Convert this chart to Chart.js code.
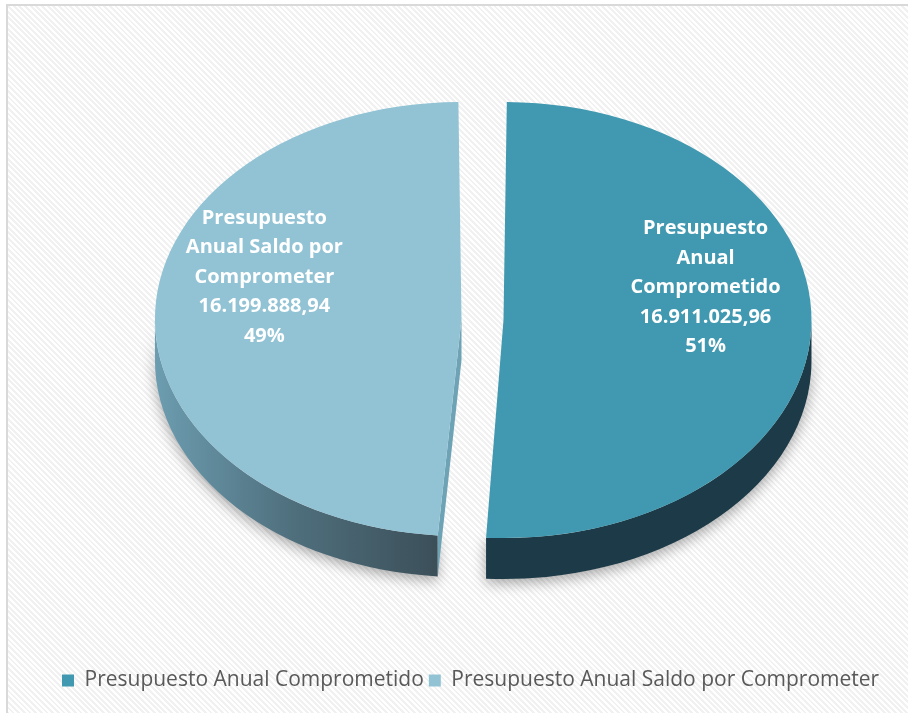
<!DOCTYPE html>
<html>
<head>
<meta charset="utf-8">
<script src="https://cdn.jsdelivr.net/npm/chart.js@4.4.1/dist/chart.umd.min.js"></script>
<style>
html, body { margin: 0; padding: 0; width: 908px; height: 713px; overflow: hidden; background: #fff; }
#frame { position: absolute; left: 6px; top: 4px; right: -10px; bottom: -10px;
  border-left: 2px solid #d9d9d9; border-top: 2px solid #d9d9d9;
  background: repeating-linear-gradient(45deg, #ffffff 0px, #ffffff 2px, #f1f1f1 2px, #f1f1f1 4px); }
#wrap { position: absolute; left: 0; top: -26px; width: 908px; height: 739px; }
</style>
</head>
<body>
<div id="frame"></div>
<div id="wrap"><canvas id="chart"></canvas></div>
<script>
// data
var categories = ["Presupuesto Anual Comprometido", "Presupuesto Anual Saldo por Comprometer"];
var amounts = [16911025.96, 16199888.94];
var amountLabels = ["16.911.025,96", "16.199.888,94"];
var sliceLines = [["Presupuesto", "Anual", "Comprometido"], ["Presupuesto", "Anual Saldo por", "Comprometer"]];
var topColors = ["#4099b0", "#92c3d5"];

var TILT = 0.708;   // vertical squash of the pie
var DEPTH = 41;     // thickness of the 3d wall

var total = amounts.reduce(function (a, b) { return a + b; }, 0);

// same maths as ArcElement.draw / pathArc in chart.js 4
function arcGeom(arc) {
    var t = (arc.options.offset || 0) / 4;
    var circ = arc.endAngle - arc.startAngle;
    var fix = 1 - Math.sin(Math.min(Math.PI, circ));
    var ro = t * fix;
    var R = arc.outerRadius + ro;
    var ao = ro / (Math.PI * 2 * R);
    var h = (arc.startAngle + arc.endAngle) / 2;
    var x = arc.x + Math.cos(h) * t;
    var y = arc.y + Math.sin(h) * t;
    return { x: x, y: arc.y + (y - arc.y) * TILT, R: R, s: arc.startAngle + ao, e: arc.endAngle - ao };
}

function wallFill(ctx, i, cx, R) {
    if (i == 0) return "#1c3a47";
    var g = ctx.createLinearGradient(cx - R, 0, cx, 0);
    g.addColorStop(0, "#6c9db0");
    g.addColorStop(0.45, "#4f6f7d");
    g.addColorStop(1, "#384a53");
    return g;
}

var pie3d = {
    id: "pie3d",
    beforeDatasetsDraw: function (chart) {
        var ctx = chart.ctx;
        var arcs = chart.getDatasetMeta(0).data;
        arcs.forEach(function (arc, i) {
            var c = arcGeom(arc);
            var R = c.R, Ry = R * TILT;
            ctx.save();
            ctx.shadowColor = "rgba(0,0,0,0.35)";
            ctx.shadowBlur = 14;
            ctx.shadowOffsetY = 4;
            ctx.fillStyle = wallFill(ctx, i, c.x, R);
            var a1 = Math.max(c.s, 0), a2 = Math.min(c.e, Math.PI);
            if (a2 > a1) {
                ctx.beginPath();
                ctx.ellipse(c.x, c.y, R, Ry, 0, a1, a2);
                ctx.ellipse(c.x, c.y + DEPTH, R, Ry, 0, a2, a1, true);
                ctx.closePath();
                ctx.fill();
            }
            // cut face that faces the viewer
            var s = c.s;
            if (s > Math.PI / 2 && s < Math.PI) {
                var px = c.x + Math.cos(s) * R, py = c.y + Math.sin(s) * Ry;
                ctx.shadowColor = "transparent";
                ctx.fillStyle = "#6ea3b6";
                ctx.beginPath();
                ctx.moveTo(c.x, c.y);
                ctx.lineTo(px, py);
                ctx.lineTo(px, py + DEPTH);
                ctx.lineTo(c.x, c.y + DEPTH);
                ctx.closePath();
                ctx.fill();
            }
            ctx.restore();
        });
        var a0 = arcs[0];
        ctx.save();
        ctx.translate(a0.x, a0.y);
        ctx.scale(1, TILT);
        ctx.translate(-a0.x, -a0.y);
    },
    afterDatasetsDraw: function (chart) {
        var ctx = chart.ctx;
        ctx.restore();
        var arcs = chart.getDatasetMeta(0).data;
        ctx.save();
        ctx.fillStyle = "#ffffff";
        ctx.font = "bold 20px 'Open Sans'";
        ctx.textAlign = "center";
        ctx.textBaseline = "middle";
        arcs.forEach(function (arc, i) {
            var c = arcGeom(arc);
            var h = (arc.startAngle + arc.endAngle) / 2;
            var r = c.R * 0.65;
            var lx = c.x + Math.cos(h) * r + 2;
            var ly = c.y + Math.sin(h) * r * TILT - 37;
            var lines = sliceLines[i].concat([amountLabels[i], Math.round(amounts[i] / total * 100) + "%"]);
            var lh = 29.5;
            var y0 = ly - (lines.length - 1) * lh / 2;
            lines.forEach(function (t, j) { ctx.fillText(t, lx, y0 + j * lh); });
        });
        ctx.restore();
    }
};

var chart = new Chart(document.getElementById("chart"), {
    type: "pie",
    data: {
        labels: categories,
        datasets: [{
            data: amounts,
            backgroundColor: topColors,
            borderWidth: 0,
            offset: 84,
            radius: 287,
            clip: false
        }]
    },
    options: {
        responsive: true,
        maintainAspectRatio: false,
        animation: false,
        events: [],
        layout: { padding: { left: 57, top: 0, right: 0, bottom: 12 } },
        plugins: {
            tooltip: { enabled: false },
            legend: {
                position: "bottom",
                align: "start",
                labels: {
                    boxWidth: 12,
                    boxHeight: 12,
                    padding: 5,
                    color: "#595959",
                    font: { family: "'Open Sans'", size: 21 }
                }
            }
        }
    },
    plugins: [pie3d]
});
</script>
</body>
</html>
